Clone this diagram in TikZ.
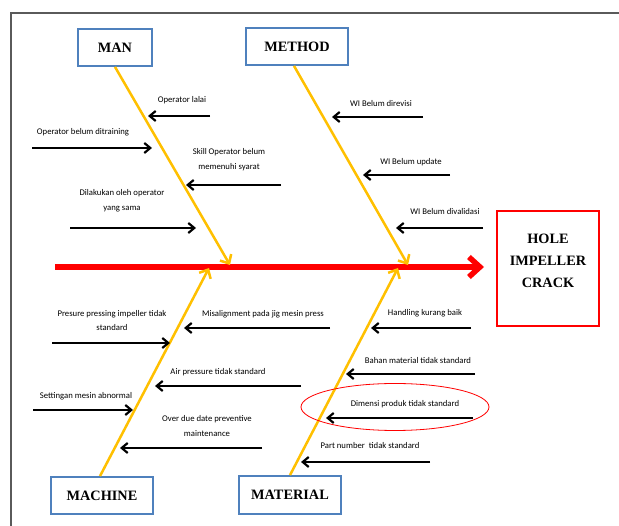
\documentclass[tikz,border=0pt]{standalone}
\usepackage{fontspec}
\setmainfont{Liberation Serif}
\newfontfamily\labfont{Carlito}
\usetikzlibrary{arrows.meta,shapes.geometric}
\definecolor{framegray}{RGB}{90,90,90}
\definecolor{boxblue}{RGB}{79,129,189}
\definecolor{boneyel}{RGB}{255,192,0}
\begin{document}
\begin{tikzpicture}[x=1pt,y=-1pt,
  catbox/.style={draw=boxblue, line width=1.8pt, minimum width=102pt, minimum height=37pt, inner sep=0pt,
    font=\fontsize{14.3}{16}\selectfont\bfseries},
  effbox/.style={draw=red, line width=1.8pt, minimum width=102pt, minimum height=115pt, inner sep=0pt},
  efftext/.style={align=center, inner sep=0pt, font=\fontsize{14.3}{22}\selectfont\bfseries},
  lab/.style={align=center, inner sep=0pt, font=\labfont\fontsize{8.7}{14.5}\selectfont},
  cause/.style={line width=2.2pt, -{Straight Barb[length=6pt,width=10pt]}},
  bone/.style={boneyel, line width=2.5pt, -{Straight Barb[length=7pt,width=13pt]}},
  spine/.style={red, line width=5.5pt, -{Straight Barb[length=11pt,width=20pt]}}
]
\useasboundingbox (0,0) rectangle (619,526);
\fill[white] (0,0) rectangle (619,526);
% frame
\draw[framegray, line width=2.5pt] (11,530) -- (11,13) -- (625,13);

% boxes
\node[catbox, minimum width=74pt] (man) at (115,47.5) {MAN};
\node[catbox] (method) at (297,46.5) {METHOD};
\node[catbox] (machine) at (102,495.5) {MACHINE};
\node[catbox, minimum height=38pt] (material) at (290,495) {MATERIAL};
\node[effbox] (effect) at (548,268.5) {};
\node[efftext] (efftxt) at (548,261) {HOLE\\IMPELLER\\CRACK};

% spine
\coordinate (spS) at (55,267);
\coordinate (spE) at (484,267);
\draw[spine] (spS) -- (spE);

% bones
\coordinate (manE) at (230,265);
\coordinate (methodE) at (408,265);
\coordinate (machineE) at (209,268);
\coordinate (materialE) at (398,268);
\draw[bone] (man.south) -- (manE);
\draw[bone] ([xshift=-3pt]method.south) -- (methodE);
\draw[bone] ([xshift=-2pt]machine.north) -- (machineE);
\draw[bone] (material.north) -- (materialE);

% MAN causes
\node[lab] (l1) at (182,100) {Operator lalai};
\coordinate (a1s) at (210,116); \coordinate (a1e) at (148,116);
\draw[cause] (a1s) -- (a1e);
\node[lab] (l2) at (83,132) {Operator belum ditraining};
\coordinate (a2s) at (32,148); \coordinate (a2e) at (152,148);
\draw[cause] (a2s) -- (a2e);
\node[lab] (l3) at (229,159.5) {Skill Operator belum\\memenuhi syarat};
\coordinate (a3s) at (281,185); \coordinate (a3e) at (186,185);
\draw[cause] (a3s) -- (a3e);
\node[lab] (l4) at (122,200.5) {Dilakukan oleh operator\\yang sama};
\coordinate (a4s) at (70,228); \coordinate (a4e) at (196,228);
\draw[cause] (a4s) -- (a4e);

% METHOD causes
\node[lab] (m1) at (381,104) {WI Belum direvisi};
\coordinate (b1s) at (423,117); \coordinate (b1e) at (332,117);
\draw[cause] (b1s) -- (b1e);
\node[lab] (m2) at (411,162) {WI Belum update};
\coordinate (b2s) at (450,175); \coordinate (b2e) at (363,175);
\draw[cause] (b2s) -- (b2e);
\node[lab] (m3) at (445,212) {WI Belum divalidasi};
\coordinate (b3s) at (483,228); \coordinate (b3e) at (396,228);
\draw[cause] (b3s) -- (b3e);

% MACHINE causes
\node[lab] (k1) at (112,320.5) {Presure pressing impeller tidak\\standard};
\coordinate (c1s) at (52,343); \coordinate (c1e) at (170,343);
\draw[cause] (c1s) -- (c1e);
\node[lab] (k2) at (263,314) {Misalignment pada jig mesin press};
\coordinate (c2s) at (330,328); \coordinate (c2e) at (184,328);
\draw[cause] (c2s) -- (c2e);
\node[lab] (k3) at (218,372) {Air pressure tidak standard};
\coordinate (c3s) at (301,386); \coordinate (c3e) at (155,386);
\draw[cause] (c3s) -- (c3e);
\node[lab] (k4) at (86,396) {Settingan mesin abnormal};
\coordinate (c4s) at (33,410); \coordinate (c4e) at (133,410);
\draw[cause] (c4s) -- (c4e);
\node[lab] (k5) at (207,426) {Over due date preventive\\maintenance};
\coordinate (c5s) at (262,448); \coordinate (c5e) at (120,448);
\draw[cause] (c5s) -- (c5e);

% MATERIAL causes
\node[lab] (t1) at (425,313) {Handling kurang baik};
\coordinate (d1s) at (471,328); \coordinate (d1e) at (371,328);
\draw[cause] (d1s) -- (d1e);
\node[lab] (t2) at (418,361) {Bahan material tidak standard};
\coordinate (d2s) at (475,374); \coordinate (d2e) at (346,374);
\draw[cause] (d2s) -- (d2e);
\node[lab] (t3) at (405,404) {Dimensi produk tidak standard};
\coordinate (d3s) at (473,418); \coordinate (d3e) at (326,418);
\draw[cause] (d3s) -- (d3e);
\node[lab] (t4) at (370,446) {Part number~ tidak standard};
\coordinate (d4s) at (430,462); \coordinate (d4e) at (301,462);
\draw[cause] (d4s) -- (d4e);

% highlight ellipse
\node[draw=red, line width=0.8pt, ellipse, minimum width=188pt, minimum height=47pt, inner sep=0pt] (hl) at (395,407) {};
\end{tikzpicture}
\end{document}
